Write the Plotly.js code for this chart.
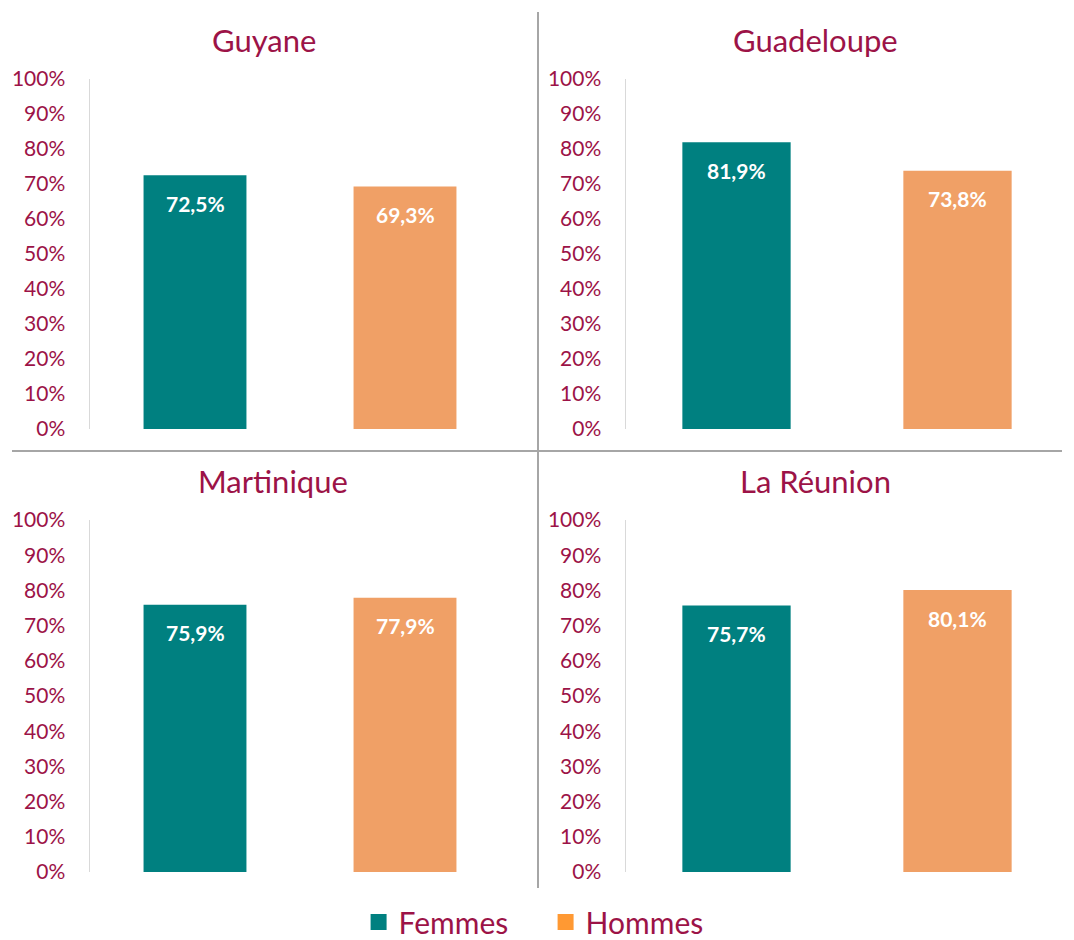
<!DOCTYPE html>
<html>
<head>
<meta charset="utf-8">
<script src="https://cdn.plot.ly/plotly-3.0.1.min.js"></script>
<style>
html,body{margin:0;padding:0;background:#fff;width:1074px;height:940px;overflow:hidden;}
#chart{width:1074px;height:940px;overflow:hidden;}
</style>
</head>
<body>
<div id="chart"></div>
<script>
const regions = ['Guyane', 'Guadeloupe', 'Martinique', 'La Réunion'];
const categories = ['Femmes', 'Hommes'];
const femmes = [72.5, 81.9, 75.9, 75.7];
const hommes = [69.3, 73.8, 77.9, 80.1];
const tickValues = [0, 10, 20, 30, 40, 50, 60, 70, 80, 90, 100];

const W = 1074, H = 940;
const px = v => v / W;
const py = v => 1 - v / H;

const teal = '#008080';
const orange = '#F0A066';
const legendOrange = '#FF9933';
const wine = '#9C1347';
const FONT = 'Lato, "Open Sans", sans-serif';

const xDomains = [[px(90), px(510)], [px(626), px(1068)], [px(90), px(510)], [px(626), px(1068)]];
const yDomains = [[py(429), py(79)], [py(429), py(79)], [py(872), py(520)], [py(872), py(520)]];
const titleX = [264, 815, 273, 815];
const titleY = [40, 40, 481, 481];

const fmt = v => v.toFixed(1).replace('.', ',') + '%';

const data = [];
const layout = {
  width: W, height: H, autosize: false,
  margin: {l: 0, r: 0, t: 0, b: 0, pad: 0, autoexpand: false},
  paper_bgcolor: '#fff', plot_bgcolor: '#fff',
  bargap: 0.51,
  showlegend: true,
  legend: {
    orientation: 'h', x: 0.508, xanchor: 'center', y: py(922), yanchor: 'middle',
    font: {family: FONT, size: 30, color: wine},
    entrywidth: 142, entrywidthmode: 'pixels',
    itemclick: false, itemdoubleclick: false
  },
  annotations: [],
  shapes: [
    {type: 'line', xref: 'paper', yref: 'paper', x0: px(538), x1: px(538), y0: py(12), y1: py(888), line: {color: '#A6A6A6', width: 2}},
    {type: 'line', xref: 'paper', yref: 'paper', x0: px(12), x1: px(1062), y0: py(451), y1: py(451), line: {color: '#A6A6A6', width: 2}}
  ]
};

regions.forEach((r, i) => {
  const n = i + 1;
  const xa = 'x' + (n === 1 ? '' : n);
  const ya = 'y' + (n === 1 ? '' : n);
  const vals = [femmes[i], hommes[i]];
  data.push({
    type: 'bar', x: categories, y: vals, xaxis: xa, yaxis: ya,
    marker: {color: [teal, orange]}, showlegend: false, hoverinfo: 'skip'
  });
  layout['xaxis' + (n === 1 ? '' : n)] = {
    domain: xDomains[i], anchor: ya, range: [-0.5, 1.5], automargin: false,
    showticklabels: false, showline: false, zeroline: false, showgrid: false, ticks: '', fixedrange: true
  };
  layout['yaxis' + (n === 1 ? '' : n)] = {
    domain: yDomains[i], anchor: xa, range: [0, 100], automargin: false,
    tickvals: tickValues, ticktext: tickValues.map(t => t + '%'),
    showgrid: false, zeroline: false, showline: true, linecolor: '#D9D9D9', linewidth: 1.5,
    ticks: '', ticklabelstandoff: 19,
    tickfont: {family: FONT, size: 21, color: wine}, fixedrange: true
  };
  layout.annotations.push({
    xref: 'paper', yref: 'paper', x: px(titleX[i]), y: py(titleY[i]),
    xanchor: 'center', yanchor: 'middle', showarrow: false,
    text: r, font: {family: FONT, size: 31, color: wine}
  });
  categories.forEach((c, k) => {
    layout.annotations.push({
      xref: xa, yref: ya, x: c, y: vals[k], yanchor: 'middle', yshift: -28,
      showarrow: false, text: '<b>' + fmt(vals[k]) + '</b>',
      font: {family: FONT, size: 21, color: '#FFFFFF'}
    });
  });
});

// legend entries
data.push({type: 'scatter', mode: 'markers', x: [null], y: [null], name: 'Femmes',
  marker: {symbol: 'square', size: 20, color: teal}, hoverinfo: 'skip'});
data.push({type: 'scatter', mode: 'markers', x: [null], y: [null], name: 'Hommes',
  marker: {symbol: 'square', size: 20, color: legendOrange}, hoverinfo: 'skip'});

Plotly.newPlot('chart', data, layout, {displayModeBar: false, staticPlot: true});
</script>
</body>
</html>
